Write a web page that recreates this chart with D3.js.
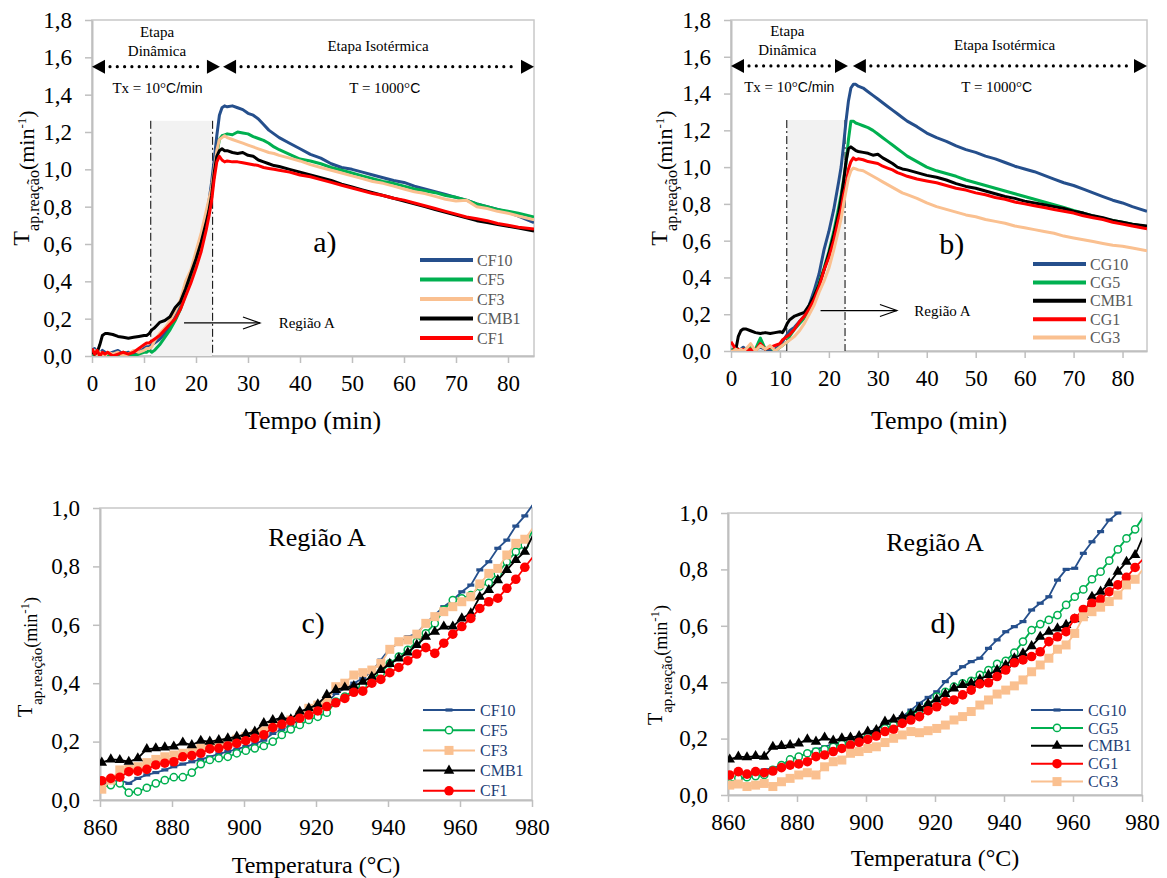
<!DOCTYPE html>
<html>
<head>
<meta charset="utf-8">
<script src="https://cdn.jsdelivr.net/npm/d3@7"></script>
<style>
body{margin:0;background:#fff}
svg{display:block}
</style>
</head>
<body>
<script>
// ---- data: panels a) and b), reaction rate vs time (min) ----
var tempo=[0,0.5,1,1.5,2,2.5,3, 4,5,6,7,8,9,10, 10.5,11,11.5,12, 13,14,15,16,17,18,19,20,21,22,
  22.5,23,23.5,24,24.5,25,25.5,26, 27,28,29,30,31,32,33,34,35,36,
  38,40,42,44,46,48,50,52,54,56,58,60,62,64,66,68,70,72,74,76,78,80,82, 85];

var cf10=[0.03,0.04,0.02,0.01,0.03,0.02,0.01, 0.02,0.03,0.01,0.02,0.01,0.02,0.04, 0.05,0.05,0.06,0.07,
  0.09,0.12,0.16,0.21,0.27,0.36,0.44,0.54,0.64,0.76, 0.83,0.93,1.05,1.18,1.29,1.33,1.34,1.335,
  1.34,1.33,1.32,1.3,1.29,1.27,1.24,1.21,1.19,1.17,
  1.14,1.11,1.08,1.06,1.03,1.01,1.0,0.985,0.97,0.955,0.94,0.93,0.91,0.895,0.88,0.865,0.85,0.835,0.815,0.8,0.785,0.77,0.75, 0.715];
var cf5=[0.02,0.0,0.01,0.02,0.0,0.01,0.0, 0.01,0.0,0.02,0.01,0.0,0.01,0.02, 0.02,0.03,0.02,0.03,
  0.06,0.1,0.14,0.19,0.25,0.33,0.42,0.51,0.64,0.75, 0.81,0.88,0.97,1.08,1.16,1.18,1.185,1.19,
  1.185,1.2,1.195,1.19,1.175,1.165,1.155,1.14,1.12,1.105,
  1.08,1.055,1.045,1.03,1.01,0.995,0.98,0.965,0.95,0.935,0.925,0.91,0.895,0.885,0.875,0.86,0.85,0.835,0.815,0.8,0.785,0.775,0.765, 0.745];
var cf3=[0.01,0.03,0.0,0.02,0.01,0.0,0.02, 0.01,0.02,0.0,0.01,0.03,0.02,0.03, 0.04,0.04,0.05,0.08,
  0.12,0.15,0.19,0.24,0.3,0.4,0.46,0.56,0.66,0.78, 0.84,0.9,1.0,1.1,1.16,1.17,1.18,1.17,
  1.16,1.15,1.14,1.13,1.12,1.11,1.1,1.09,1.085,1.075,
  1.06,1.045,1.025,1.01,0.995,0.98,0.965,0.95,0.935,0.925,0.91,0.895,0.88,0.87,0.855,0.84,0.83,0.835,0.8,0.79,0.775,0.765,0.75, 0.73];
var cmb1a=[0.02,0.01,0.02,0.06,0.11,0.12,0.12, 0.115,0.105,0.1,0.095,0.1,0.105,0.11, 0.11,0.12,0.14,0.15,
  0.18,0.19,0.21,0.26,0.29,0.36,0.44,0.52,0.61,0.72, 0.78,0.86,0.98,1.07,1.1,1.11,1.1,1.1,
  1.09,1.085,1.09,1.075,1.07,1.05,1.04,1.03,1.02,1.015,
  1.0,0.985,0.97,0.955,0.94,0.92,0.905,0.89,0.875,0.86,0.845,0.83,0.815,0.8,0.785,0.77,0.755,0.74,0.725,0.715,0.705,0.695,0.685, 0.67];
var cf1=[0.04,0.01,0.03,0.0,0.02,0.01,0.02, 0.0,0.01,0.02,0.01,0.02,0.04,0.06, 0.07,0.07,0.08,0.09,
  0.11,0.14,0.17,0.2,0.25,0.32,0.39,0.47,0.56,0.68, 0.75,0.83,0.95,1.04,1.07,1.05,1.04,1.045,
  1.04,1.04,1.035,1.03,1.025,1.02,1.01,1.005,1.0,0.995,
  0.985,0.97,0.96,0.945,0.93,0.915,0.9,0.885,0.87,0.86,0.845,0.835,0.82,0.805,0.79,0.775,0.76,0.745,0.735,0.725,0.71,0.7,0.69, 0.68];

var cg10=[0.0,0.01,0.02,0.0,0.01,0.02,0.01, 0.0,0.01,0.02,0.01,0.0,0.01,0.03, 0.05,0.07,0.09,0.11,
  0.13,0.16,0.19,0.25,0.33,0.42,0.55,0.65,0.77,0.92, 1.0,1.12,1.25,1.36,1.43,1.45,1.45,1.44,
  1.43,1.41,1.39,1.37,1.35,1.33,1.31,1.29,1.27,1.25,
  1.22,1.185,1.16,1.14,1.115,1.095,1.08,1.06,1.045,1.025,1.005,0.99,0.975,0.955,0.935,0.915,0.9,0.88,0.86,0.84,0.82,0.805,0.785, 0.76];
var cg5=[0.0,0.01,0.0,0.01,0.0,0.01,0.0, 0.02,0.01,0.07,0.01,0.02,0.0,0.02, 0.03,0.04,0.05,0.08,
  0.12,0.15,0.18,0.23,0.3,0.37,0.45,0.54,0.65,0.78, 0.85,0.93,1.02,1.15,1.25,1.25,1.24,1.235,
  1.225,1.215,1.2,1.18,1.16,1.14,1.12,1.1,1.08,1.06,
  1.03,1.0,0.98,0.965,0.95,0.93,0.915,0.9,0.885,0.87,0.855,0.84,0.825,0.81,0.795,0.78,0.765,0.75,0.735,0.72,0.71,0.7,0.69, 0.675];
var cmb1b=[0.0,0.0,0.01,0.08,0.11,0.12,0.12, 0.11,0.1,0.095,0.1,0.095,0.1,0.105, 0.1,0.12,0.15,0.17,
  0.19,0.2,0.21,0.25,0.3,0.36,0.44,0.53,0.63,0.75, 0.83,0.92,1.03,1.1,1.11,1.1,1.09,1.085,
  1.08,1.075,1.065,1.07,1.05,1.035,1.02,1.0,0.99,0.985,
  0.97,0.955,0.945,0.93,0.91,0.895,0.885,0.87,0.855,0.84,0.83,0.815,0.805,0.795,0.785,0.775,0.76,0.75,0.735,0.725,0.71,0.7,0.69, 0.68];
var cg1=[0.05,0.03,0.0,0.01,0.0,0.01,0.0, 0.01,0.0,0.04,0.01,0.02,0.03,0.04, 0.06,0.07,0.08,0.09,
  0.12,0.16,0.19,0.23,0.28,0.35,0.44,0.51,0.6,0.72, 0.77,0.85,0.9,0.99,1.03,1.05,1.04,1.045,
  1.04,1.03,1.025,1.02,1.005,0.995,0.985,0.97,0.96,0.95,
  0.935,0.925,0.915,0.9,0.885,0.875,0.86,0.85,0.835,0.825,0.81,0.8,0.79,0.78,0.77,0.76,0.75,0.735,0.725,0.715,0.7,0.69,0.68, 0.665];
var cg3=[0.0,0.0,0.01,0.0,0.01,0.0,0.01, 0.04,0.0,0.03,0.01,0.03,0.0,0.02, 0.03,0.04,0.05,0.06,
  0.08,0.11,0.15,0.2,0.25,0.32,0.38,0.45,0.55,0.66, 0.72,0.8,0.87,0.94,0.98,0.995,0.99,0.985,
  0.98,0.965,0.95,0.935,0.92,0.905,0.89,0.875,0.86,0.85,
  0.83,0.805,0.785,0.77,0.755,0.74,0.73,0.715,0.705,0.695,0.68,0.67,0.66,0.65,0.64,0.625,0.615,0.605,0.595,0.585,0.575,0.57,0.56, 0.545];

// ---- data: panels c) and d), Região A, reaction rate vs temperature (°C) ----
var tempC=[860.5,863,865.5,868,870.5,873,875.5,878,880.5,883,885.5,888,890.5,893,895.5,898,900.5,903,905.5,908,
  910.5,913,915.5,918,920.5,923,925.5,928,930.5,933,935.5,938,940.5,943,945.5,948,950.5,953,955.5,958,
  960.5,963,965.5,968,970.5,973,975.5,978,980.5];

var rCF10=[0.051,0.063,0.068,0.057,0.074,0.086,0.094,0.103,0.114,0.123,0.131,0.139,0.148,0.158,0.166,0.174,0.183,0.192,0.205,0.228,
  0.242,0.257,0.274,0.297,0.308,0.331,0.365,0.382,0.4,0.417,0.44,0.479,0.519,0.537,0.559,0.571,0.605,0.634,0.662,0.685,
  0.713,0.736,0.788,0.816,0.862,0.89,0.938,0.973,1.016];
var rCF5=[0.045,0.051,0.057,0.025,0.029,0.042,0.057,0.068,0.078,0.078,0.094,0.123,0.137,0.143,0.148,0.16,0.169,0.177,0.185,0.2,
  0.223,0.242,0.257,0.274,0.285,0.299,0.337,0.354,0.377,0.394,0.413,0.436,0.468,0.491,0.514,0.542,0.571,0.605,0.651,0.685,
  0.691,0.702,0.731,0.744,0.776,0.816,0.85,0.873,0.93];
var rCF3=[0.037,0.068,0.103,0.105,0.114,0.128,0.139,0.148,0.154,0.16,0.169,0.177,0.183,0.192,0.197,0.208,0.217,0.226,0.237,0.249,
  0.263,0.274,0.291,0.314,0.325,0.34,0.388,0.4,0.428,0.436,0.445,0.468,0.516,0.542,0.548,0.568,0.605,0.628,0.645,0.662,
  0.679,0.696,0.74,0.776,0.793,0.839,0.879,0.893,0.936];
var rCMB1c=[0.128,0.139,0.137,0.131,0.143,0.174,0.177,0.18,0.183,0.197,0.188,0.203,0.2,0.205,0.211,0.217,0.226,0.234,0.263,0.274,
  0.282,0.276,0.303,0.314,0.328,0.36,0.377,0.385,0.39,0.405,0.422,0.445,0.466,0.485,0.505,0.531,0.559,0.576,0.594,0.594,
  0.622,0.639,0.696,0.719,0.753,0.788,0.822,0.85,0.913];
var rCF1=[0.066,0.074,0.078,0.097,0.099,0.105,0.12,0.126,0.131,0.148,0.152,0.16,0.175,0.177,0.185,0.194,0.203,0.211,0.223,0.248,
  0.259,0.271,0.28,0.291,0.305,0.32,0.333,0.348,0.369,0.373,0.4,0.413,0.436,0.454,0.477,0.5,0.522,0.502,0.537,0.568,
  0.594,0.622,0.656,0.679,0.691,0.725,0.756,0.797,0.836];

var rCG10=[0.041,0.053,0.063,0.083,0.089,0.095,0.106,0.124,0.136,0.148,0.162,0.171,0.181,0.183,0.189,0.197,0.213,0.23,0.254,0.266,
  0.278,0.301,0.325,0.346,0.366,0.402,0.431,0.455,0.473,0.485,0.52,0.55,0.579,0.597,0.615,0.656,0.68,0.703,0.762,0.8,
  0.804,0.857,0.898,0.934,0.975,1.0];
var rCG5=[0.041,0.059,0.063,0.067,0.071,0.089,0.106,0.126,0.136,0.148,0.154,0.162,0.171,0.181,0.189,0.195,0.207,0.219,0.236,0.248,
  0.266,0.287,0.301,0.319,0.349,0.366,0.384,0.396,0.405,0.426,0.443,0.465,0.476,0.505,0.544,0.585,0.606,0.621,0.638,0.674,
  0.703,0.729,0.765,0.792,0.831,0.871,0.91,0.942,0.989];
var rCMB1d=[0.126,0.136,0.134,0.138,0.136,0.171,0.174,0.177,0.183,0.197,0.189,0.204,0.193,0.201,0.204,0.209,0.225,0.23,0.26,0.268,
  0.278,0.287,0.307,0.323,0.339,0.358,0.378,0.39,0.396,0.41,0.426,0.443,0.461,0.485,0.502,0.528,0.561,0.579,0.591,0.603,
  0.623,0.638,0.703,0.721,0.751,0.792,0.827,0.851,0.922];
var rCG1=[0.071,0.083,0.074,0.083,0.079,0.085,0.097,0.106,0.11,0.118,0.136,0.142,0.154,0.165,0.177,0.187,0.197,0.209,0.225,0.233,
  0.254,0.266,0.278,0.299,0.313,0.331,0.337,0.355,0.372,0.394,0.398,0.42,0.443,0.469,0.479,0.491,0.508,0.544,0.561,0.579,
  0.626,0.658,0.68,0.694,0.721,0.745,0.772,0.807,0.839];
var rCG3=[0.035,0.039,0.03,0.035,0.041,0.03,0.047,0.059,0.071,0.079,0.071,0.1,0.118,0.124,0.148,0.154,0.165,0.171,0.186,0.201,
  0.213,0.225,0.221,0.228,0.236,0.248,0.266,0.278,0.296,0.319,0.337,0.358,0.372,0.387,0.408,0.437,0.461,0.485,0.517,0.532,
  0.573,0.632,0.65,0.666,0.686,0.709,0.745,0.765,0.804];

// ticks and series names
var timeTicks=[0,10,20,30,40,50,60,70,80];
var rateTicks=[0,0.2,0.4,0.6,0.8,1.0,1.2,1.4,1.6,1.8];
var tempTicks=[860,880,900,920,940,960,980];
var regTicks=[0,0.2,0.4,0.6,0.8,1.0];
var namesA=["CF10","CF5","CF3","CMB1","CF1"];
var namesB=["CG10","CG5","CMB1","CG1","CG3"];

var BLUE="#254F8C",GREEN="#00B050",PEACH="#FAC090",BLACK="#000000",RED="#FF0000";
var serif='"Liberation Serif","Times New Roman",serif';
var sans='"Liberation Sans",Arial,sans-serif';

var svg=d3.select("body").append("svg").attr("width",1167).attr("height",878);
var fmtComma=function(d){return d3.format(".1f")(d).replace(".",",");};
var clipId=0;

function setupPanel(o) {
    var x=d3.scaleLinear().domain(o.xDomain).range([o.left,o.right]);
    var y=d3.scaleLinear().domain(o.yDomain).range([o.bottom,o.top]);
    var g=svg.append("g");
    g.append("rect")
        .attr("x",o.left).attr("y",o.top).attr("width",o.right-o.left).attr("height",o.bottom-o.top)
        .attr("fill","none").attr("stroke","#C8C8C8").attr("stroke-width",1.5);
    g.append("g").attr("transform","translate(0,"+o.bottom+")")
        .call(d3.axisBottom(x).tickValues(o.xTicks).tickSize(7).tickSizeOuter(0).tickPadding(12).tickFormat(d3.format("d")));
    g.append("g").attr("transform","translate("+o.left+",0)")
        .call(d3.axisLeft(y).tickValues(o.yTicks).tickSize(7).tickSizeOuter(0).tickPadding(13).tickFormat(fmtComma));
    g.selectAll(".domain").attr("stroke","#BFBFBF").attr("stroke-width",2);
    g.selectAll(".tick line").attr("stroke","#BFBFBF").attr("stroke-width",1.5);
    g.selectAll(".tick text").attr("font-family",serif).attr("font-size",23).attr("fill","#000");

    var id="clip"+(clipId++);
    svg.append("clipPath").attr("id",id).append("rect")
        .attr("x",o.left).attr("y",o.top-6).attr("width",o.right-o.left).attr("height",o.bottom-o.top+6);
    var plot=g.append("g").attr("clip-path","url(#"+id+")");

    // x title
    g.append("text").attr("x",(o.left+o.right)/2).attr("y",o.titleY)
        .attr("text-anchor","middle").attr("font-family",serif).attr("font-size",o.titleSize)
        .text(o.title);
    // y title with subscript and superscript
    var t=g.append("text").attr("transform","translate("+o.ylX+","+o.ylY+") rotate(-90)")
        .attr("text-anchor","middle").attr("font-family",serif).attr("fill","#000");
    t.append("tspan").attr("font-size",o.ylBig).text("T");
    t.append("tspan").attr("font-size",o.ylSmall).attr("dy",o.ylSmall*0.65).text("ap.reação");
    t.append("tspan").attr("font-size",o.ylBig-2).attr("dy",-o.ylSmall*0.35).text("(min");
    t.append("tspan").attr("font-size",13).attr("dy",-8).text("-1");
    t.append("tspan").attr("font-size",o.ylBig-2).attr("dy",8).text(")");
    return {g:g,plot:plot,x:x,y:y};
}

function stageArrow(g,x1,x2,yy) {
    var ah=13,hw=7;
    g.append("line").attr("x1",x1+ah+5).attr("x2",x2-ah-4).attr("y1",yy).attr("y2",yy)
        .attr("stroke","#000").attr("stroke-width",3.2).attr("stroke-linecap","round").attr("stroke-dasharray","0 7.3");
    g.append("path").attr("d","M"+x1+","+yy+"L"+(x1+ah)+","+(yy-hw)+"L"+(x1+ah)+","+(yy+hw)+"Z").attr("fill","#000");
    g.append("path").attr("d","M"+x2+","+yy+"L"+(x2-ah)+","+(yy-hw)+"L"+(x2-ah)+","+(yy+hw)+"Z").attr("fill","#000");
}

function timePanel(o,series) {
    var p=setupPanel(o), x=p.x, y=p.y, g=p.g;
    // shaded Região A
    g.append("rect").attr("x",x(o.shade[0])).attr("y",y(o.shadeTop))
        .attr("width",x(o.shade[1])-x(o.shade[0])).attr("height",y(0)-y(o.shadeTop)).attr("fill","#F2F2F2");
    o.shade.forEach(function (s) {
        g.append("line").attr("x1",x(s)).attr("x2",x(s)).attr("y1",y(o.shadeTop)).attr("y2",y(0))
            .attr("stroke","#000").attr("stroke-width",1).attr("stroke-dasharray","8,3,2,3");
    });
    p.plot.raise();
    var line=d3.line().x(function (d) {return x(d[0]);}).y(function (d) {return y(d[1]);});
    series.forEach(function (s) {
        p.plot.append("path").datum(d3.zip(tempo,s.v)).attr("d",line)
            .attr("fill","none").attr("stroke",s.c).attr("stroke-width",3).attr("stroke-linejoin","round");
    });
    // stage arrows and labels
    var ay=y(1.55);
    stageArrow(g,x(0),x(o.split[0]),ay);
    stageArrow(g,x(o.split[1]),x(85),ay);
    var ann=[["Etapa",o.dinX,ay-30],["Dinâmica",o.dinX,ay-11],["Etapa Isotérmica",o.isoX,ay-16]];
    ann.forEach(function (a) {
        g.append("text").attr("x",x(a[1])).attr("y",a[2]).attr("text-anchor","middle")
            .attr("font-family",serif).attr("font-size",15).text(a[0]);
    });
    var t1=g.append("text").attr("x",x(o.txX)).attr("y",ay+26).attr("text-anchor","middle").attr("font-size",15);
    t1.append("tspan").attr("font-family",serif).text("Tx = 10°");
    t1.append("tspan").attr("font-family",sans).attr("font-size",14).text("C/min");
    var t2=g.append("text").attr("x",x(o.tX)).attr("y",ay+26).attr("text-anchor","middle").attr("font-size",15);
    t2.append("tspan").attr("font-family",serif).text("T = 1000°");
    t2.append("tspan").attr("font-family",sans).attr("font-size",14).text("C");
    // Região A arrow
    var ry=y(o.regY), rx1=x(o.regArrow[0]), rx2=x(o.regArrow[1]);
    g.append("line").attr("x1",rx1).attr("x2",rx2).attr("y1",ry).attr("y2",ry).attr("stroke","#000").attr("stroke-width",1.2);
    g.append("path").attr("d","M"+(rx2-17)+","+(ry-6)+"L"+rx2+","+ry+"L"+(rx2-17)+","+(ry+6))
        .attr("fill","none").attr("stroke","#000").attr("stroke-width",1.2);
    g.append("text").attr("x",x(o.regTextX)).attr("y",ry+5).attr("text-anchor","middle")
        .attr("font-family",serif).attr("font-size",15).text("Região A");
    g.append("text").attr("x",x(o.letter[0])).attr("y",y(o.letter[1])+10).attr("text-anchor","middle")
        .attr("font-family",serif).attr("font-size",30).text(o.letterText);
    // legend
    series.forEach(function (s,i) {
        var ly=o.legY+i*o.legStep;
        g.append("line").attr("x1",o.legX).attr("x2",o.legX+53).attr("y1",ly).attr("y2",ly)
            .attr("stroke",s.c).attr("stroke-width",4);
        g.append("text").attr("x",o.legX+57).attr("y",ly).attr("dy","0.35em")
            .attr("font-family",serif).attr("font-size",16).attr("fill","#595959").text(s.n);
    });
}

function drawMarker(sel,type,color) {
    if (type==="dash") {
        sel.append("rect").attr("x",-3.5).attr("y",-1.6).attr("width",7).attr("height",3.2).attr("fill",color);
    } else if (type==="ocircle") {
        sel.append("circle").attr("r",3.6).attr("fill","#fff").attr("stroke",color).attr("stroke-width",1.5);
    } else if (type==="square") {
        sel.append("rect").attr("x",-4.5).attr("y",-4.5).attr("width",9).attr("height",9).attr("fill",color);
    } else if (type==="tri") {
        sel.append("path").attr("d",d3.symbol(d3.symbolTriangle).size(48)()).attr("fill",color);
    } else {
        sel.append("circle").attr("r",4.8).attr("fill",color);
    }
}

function tempPanel(o,series) {
    var p=setupPanel(o), x=p.x, y=p.y, g=p.g;
    var line=d3.line().x(function (d) {return x(d[0]);}).y(function (d) {return y(d[1]);});
    series.forEach(function (s) {
        var pts=d3.zip(tempC,s.v);
        p.plot.append("path").datum(pts).attr("d",line)
            .attr("fill","none").attr("stroke",s.c).attr("stroke-width",1.8);
        p.plot.selectAll(null).data(pts.filter(function (d) {return d[0]<=980 && d[1]<=1.0;}))
            .enter().append("g")
            .attr("transform",function (d) {return "translate("+x(d[0])+","+y(d[1])+")";})
            .each(function () {drawMarker(d3.select(this),s.m,s.c);});
    });
    g.append("text").attr("x",x(o.regText[0])).attr("y",y(o.regText[1])+9).attr("text-anchor","middle")
        .attr("font-family",serif).attr("font-size",26).text("Região A");
    g.append("text").attr("x",x(o.letter[0])).attr("y",y(o.letter[1])+10).attr("text-anchor","middle")
        .attr("font-family",serif).attr("font-size",30).text(o.letterText);
    series.forEach(function (s,i) {
        var ly=o.legY+i*o.legStep;
        g.append("line").attr("x1",o.legX).attr("x2",o.legX+52).attr("y1",ly).attr("y2",ly)
            .attr("stroke",s.c).attr("stroke-width",2);
        drawMarker(g.append("g").attr("transform","translate("+(o.legX+26)+","+ly+")"),s.m,s.c);
        g.append("text").attr("x",o.legX+57).attr("y",ly).attr("dy","0.35em")
            .attr("font-family",serif).attr("font-size",16).attr("fill","#1F3F77").text(s.n);
    });
}

// a)
timePanel({xDomain:[0,85],yDomain:[0,1.8],left:92,right:534,top:20,bottom:356,
    xTicks:timeTicks,yTicks:rateTicks,title:"Tempo (min)",titleSize:26,titleY:429,
    ylX:29,ylY:178,ylBig:24,ylSmall:16,
    shade:[11.3,23.2],shadeTop:1.26,split:[24.6,25.2],dinX:12.5,isoX:55,txX:12.6,tX:56.3,
    regY:0.177,regArrow:[17.7,32.3],regTextX:41.3,letter:[44.8,0.61],letterText:"a)",
    legX:420,legY:260,legStep:19.5},
  [{n:namesA[0],v:cf10,c:BLUE},{n:namesA[1],v:cf5,c:GREEN},{n:namesA[2],v:cf3,c:PEACH},
   {n:namesA[3],v:cmb1a,c:BLACK},{n:namesA[4],v:cf1,c:RED}]);

// b)
timePanel({xDomain:[0,85],yDomain:[0,1.8],left:731,right:1147,top:20,bottom:351,
    xTicks:timeTicks,yTicks:rateTicks,title:"Tempo (min)",titleSize:26,titleY:429,
    ylX:667,ylY:178,ylBig:24,ylSmall:16,
    shade:[11.4,23.3],shadeTop:1.256,split:[23.9,24.9],dinX:11.5,isoX:55.9,txX:11.9,tX:54.3,
    regY:0.22,regArrow:[18.3,33.9],regTextX:43.2,letter:[45.1,0.58],letterText:"b)",
    legX:1033,legY:264,legStep:18.4},
  [{n:namesB[0],v:cg10,c:BLUE},{n:namesB[1],v:cg5,c:GREEN},{n:namesB[2],v:cmb1b,c:BLACK},
   {n:namesB[3],v:cg1,c:RED},{n:namesB[4],v:cg3,c:PEACH}]);

// c)
tempPanel({xDomain:[860,980],yDomain:[0,1],left:100,right:532,top:508,bottom:800,
    xTicks:tempTicks,yTicks:regTicks,title:"Temperatura (°C)",titleSize:24,titleY:873,
    ylX:32,ylY:657,ylBig:20,ylSmall:15,
    regText:[920.3,0.9],letter:[919.2,0.606],letterText:"c)",legX:423,legY:710,legStep:20.2},
  [{n:namesA[0],v:rCF10,c:BLUE,m:"dash"},{n:namesA[1],v:rCF5,c:GREEN,m:"ocircle"},
   {n:namesA[2],v:rCF3,c:PEACH,m:"square"},{n:namesA[3],v:rCMB1c,c:BLACK,m:"tri"},
   {n:namesA[4],v:rCF1,c:RED,m:"circle"}]);

// d)
tempPanel({xDomain:[860,980],yDomain:[0,1],left:728,right:1142,top:513,bottom:795,
    xTicks:tempTicks,yTicks:regTicks,title:"Temperatura (°C)",titleSize:24,titleY:866,
    ylX:662,ylY:665,ylBig:20,ylSmall:15,
    regText:[920,0.897],letter:[922.3,0.61],letterText:"d)",legX:1031,legY:710,legStep:17.9},
  [{n:namesB[0],v:rCG10,c:BLUE,m:"dash"},{n:namesB[1],v:rCG5,c:GREEN,m:"ocircle"},
   {n:namesB[2],v:rCMB1d,c:BLACK,m:"tri"},{n:namesB[3],v:rCG1,c:RED,m:"circle"},
   {n:namesB[4],v:rCG3,c:PEACH,m:"square"}]);
</script>
</body>
</html>
